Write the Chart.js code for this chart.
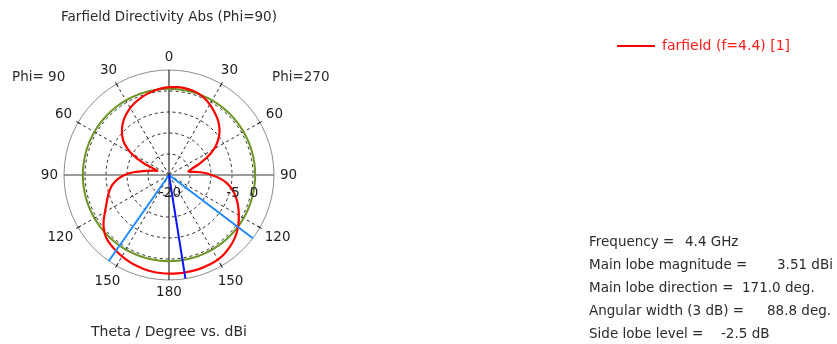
<!DOCTYPE html>
<html>
<head>
<meta charset="utf-8">
<title>Farfield Directivity Abs (Phi=90)</title>
<script src="https://cdn.jsdelivr.net/npm/chart.js@4.4.1/dist/chart.umd.min.js"></script>
<style>
  html, body { margin: 0; padding: 0; background: #ffffff; overflow: hidden; }
  canvas { display: block; }
</style>
</head>
<body>
<canvas id="farfield" width="837" height="344"></canvas>
<script>
// Theta samples of the cut (degrees from the z axis)
const thetaDeg = [0, 5, 10, 15, 20, 25, 30, 35, 40, 45, 50, 55, 60, 65, 70, 75, 80, 85, 90,
                  95, 100, 105, 110, 115, 120, 125, 130, 135, 140, 145, 150, 155, 160, 165, 170, 175, 180];

// Directivity in dBi on the Phi=270 half (drawn on the right)
const dirPhi270 = [0.90, 0.98, 1.01, 0.90, 0.62, 0.10, -0.60, -1.40, -2.20, -3.15, -4.30, -5.80, -7.60,
                   -9.90, -12.40, -14.40, -15.30, -12.40, -9.80, -7.30, -5.40, -4.00, -2.85, -1.80,
                   -0.80, 0.20, 1.10, 1.85, 2.45, 2.95, 3.25, 3.40, 3.47, 3.50, 3.51, 3.50, 3.48];

// Directivity in dBi on the Phi=90 half (drawn on the left)
const dirPhi90 = [0.90, 0.70, 0.38, 0.00, -0.45, -0.95, -1.55, -2.30, -3.15, -4.20, -5.45, -7.10, -9.60,
                  -13.20, -17.00, -16.00, -14.40, -11.80, -9.40, -7.60, -6.30, -5.30, -4.45, -3.55,
                  -2.40, -1.00, 0.25, 1.15, 1.65, 2.00, 2.35, 2.68, 2.95, 3.15, 3.32, 3.43, 3.48];

// Angle tick labels and labelled radial levels
const angleTickLabels = [0, 30, 60, 90, 120, 150, 180];
const radialTickLabels = [-20, -5, 0];

// Radial range of the plot (dB)
const rangeMin = -20;
const rangeMax = 5;
const rangeStep = 5;

// Farfield summary
const frequencyGHz = 4.4;
const mainLobeMagnitude = 3.51;
const mainLobeDirection = 171.0;
const angularWidth3dB = 88.8;
const sideLobeLevel = -2.5;
const seriesName = 'farfield (f=4.4) [1]';

// ---- build the 1-degree polar table used by the radar scale ----
const STEPS = 360;
const labels = Array.from({ length: STEPS }, (_, i) => i);

// index i is i degrees clockwise from the top: right half = Phi 270, left half = Phi 90
const patternData = new Array(STEPS).fill(null);
thetaDeg.forEach((t, k) => {
  patternData[t % STEPS] = dirPhi270[k];
  if (t > 0 && t < 180) patternData[STEPS - t] = dirPhi90[k];
});

// -3 dB level circle
const halfPowerLevel = mainLobeMagnitude - 3;
const halfPowerData = new Array(STEPS).fill(halfPowerLevel);

// a ray from the centre out to the rim at a given clockwise angle
function rayData(angle) {
  const i = ((Math.round(angle) % STEPS) + STEPS) % STEPS;
  const d = new Array(STEPS).fill(null);
  d[(i + STEPS - 1) % STEPS] = rangeMin;
  d[i] = rangeMax;
  return d;
}
const mainRay = rayData(mainLobeDirection);
const edgeRayA = rayData(mainLobeDirection - angularWidth3dB / 2);
const edgeRayB = rayData(mainLobeDirection + angularWidth3dB / 2);

const TEXT = '#2b2b2b';
const FONT = '"DejaVu Sans", Verdana, sans-serif';

const decor = {
  id: 'farfieldDecor',
  beforeDraw(chart) {
    const c = chart.ctx;
    c.save();
    c.fillStyle = '#ffffff';
    c.fillRect(0, 0, chart.width, chart.height);
    c.restore();
  },
  beforeDatasetsDraw(chart) {
    // short solid ticks where the 30-degree spokes meet the rim
    const s = chart.scales.r;
    const R = s.drawingArea;
    const c = chart.ctx;
    c.save();
    c.strokeStyle = '#111111';
    c.lineWidth = 1;
    for (let i = 30; i < STEPS; i += 30) {
      if (i % 90 === 0) continue;
      const a = s.getPointPosition(i, R - 3);
      const b = s.getPointPosition(i, R + 2);
      c.beginPath();
      c.moveTo(a.x, a.y);
      c.lineTo(b.x, b.y);
      c.stroke();
    }
    c.restore();
  },
  afterDraw(chart) {
    const s = chart.scales.r;
    const R = s.drawingArea;
    const c = chart.ctx;
    c.save();
    c.textBaseline = 'middle';

    // title and axis caption
    c.fillStyle = TEXT;
    c.textAlign = 'center';
    c.font = '13.5px ' + FONT;
    c.fillText('Farfield Directivity Abs (Phi=90)', s.xCenter, 17);
    c.font = '14px ' + FONT;
    c.fillText('Theta / Degree vs. dBi', s.xCenter, 332);

    // half-plane captions
    c.font = '13.5px ' + FONT;
    c.textAlign = 'left';
    c.fillText('Phi= 90', 12, 77);
    c.fillText('Phi=270', 272, 77);

    // angle labels around the rim
    c.fillStyle = '#1e1e1e';
    c.textAlign = 'center';
    c.font = '13.5px ' + FONT;
    angleTickLabels.forEach(t => {
      const idxs = (t === 0 || t === 180) ? [t] : [t, STEPS - t];
      const txt = String(t);
      const w = c.measureText(txt).width;
      const h = 13;
      const a = t * Math.PI / 180;
      const dist = R + 6 + Math.abs(Math.sin(a)) * w / 2 + Math.abs(Math.cos(a)) * h / 2;
      idxs.forEach(i => {
        const p = s.getPointPosition(i, dist);
        c.fillText(txt, p.x, p.y);
      });
    });

    // radial level labels along the 90-degree axis
    c.font = '13.5px ' + FONT;
    radialTickLabels.forEach(v => {
      const p = s.getPointPositionForValue(90, v);
      c.fillText(String(v), p.x + 1, s.yCenter + 18);
    });

    // legend
    c.strokeStyle = '#ff0000';
    c.lineWidth = 2;
    c.beginPath();
    c.moveTo(617, 46);
    c.lineTo(655, 46);
    c.stroke();
    c.fillStyle = '#ff1a1a';
    c.textAlign = 'left';
    c.font = '14px ' + FONT;
    c.fillText(seriesName, 662, 46);

    // summary block: caption at the left margin, value in its own column
    c.fillStyle = TEXT;
    c.font = '13.5px ' + FONT;
    const x0 = 589;
    const rows = [
      ['Frequency =', frequencyGHz + ' GHz', 685, 242],
      ['Main lobe magnitude =', mainLobeMagnitude.toFixed(2) + ' dBi', 777, 265],
      ['Main lobe direction =', mainLobeDirection.toFixed(1) + ' deg.', 742, 288],
      ['Angular width (3 dB) =', angularWidth3dB.toFixed(1) + ' deg.', 767, 311],
      ['Side lobe level =', sideLobeLevel.toFixed(1) + ' dB', 721, 334]
    ];
    rows.forEach(([caption, value, vx, y]) => {
      c.fillText(caption, x0, y);
      c.fillText(value, vx, y);
    });
    c.restore();
  }
};

const lineBase = { fill: false, pointRadius: 0, pointHoverRadius: 0, backgroundColor: 'transparent' };

new Chart(document.getElementById('farfield'), {
  type: 'radar',
  data: {
    labels: labels,
    datasets: [
      Object.assign({ label: 'main lobe', data: mainRay, borderColor: '#0a14ff', borderWidth: 2, tension: 0 }, lineBase),
      Object.assign({ label: '3 dB edge', data: edgeRayA, borderColor: '#1e8cff', borderWidth: 2, tension: 0 }, lineBase),
      Object.assign({ label: '3 dB edge', data: edgeRayB, borderColor: '#1e8cff', borderWidth: 2, tension: 0 }, lineBase),
      Object.assign({ label: seriesName, data: patternData, borderColor: '#ff0000', borderWidth: 2.2, tension: 0.3, spanGaps: true }, lineBase),
      Object.assign({ label: '-3 dB', data: halfPowerData, borderColor: '#6b9424', borderWidth: 2, tension: 0 }, lineBase)
    ]
  },
  options: {
    responsive: false,
    animation: false,
    devicePixelRatio: 1,
    events: [],
    layout: { padding: { left: 64, right: 563, top: 70, bottom: 64 } },
    plugins: {
      legend: { display: false },
      title: { display: false },
      tooltip: { enabled: false }
    },
    scales: {
      r: {
        min: rangeMin,
        max: rangeMax,
        startAngle: 0,
        ticks: { stepSize: rangeStep, display: false },
        pointLabels: { display: false },
        grid: {
          circular: true,
          lineWidth: 1,
          color: ctx => (ctx.tick && ctx.tick.value === rangeMax) ? '#8c8c8c' : '#2a2a2a'
        },
        border: {
          dash: ctx => (ctx.tick && ctx.tick.value === rangeMax) ? [] : [3, 3]
        },
        angleLines: {
          display: true,
          color: ctx => {
            const i = ctx.index;
            if (i % 30 !== 0) return 'transparent';
            if (i % 180 === 0) return '#000000';
            if (i % 90 === 0) return '#7a7a7a';
            return '#2a2a2a';
          },
          lineWidth: ctx => {
            const i = ctx.index;
            if (i % 30 !== 0) return 0;
            if (i % 180 === 90) return 1.6;
            return 1;
          },
          borderDash: ctx => (ctx.index % 90 === 0) ? [] : [3, 3]
        }
      }
    }
  },
  plugins: [decor]
});
</script>
</body>
</html>
